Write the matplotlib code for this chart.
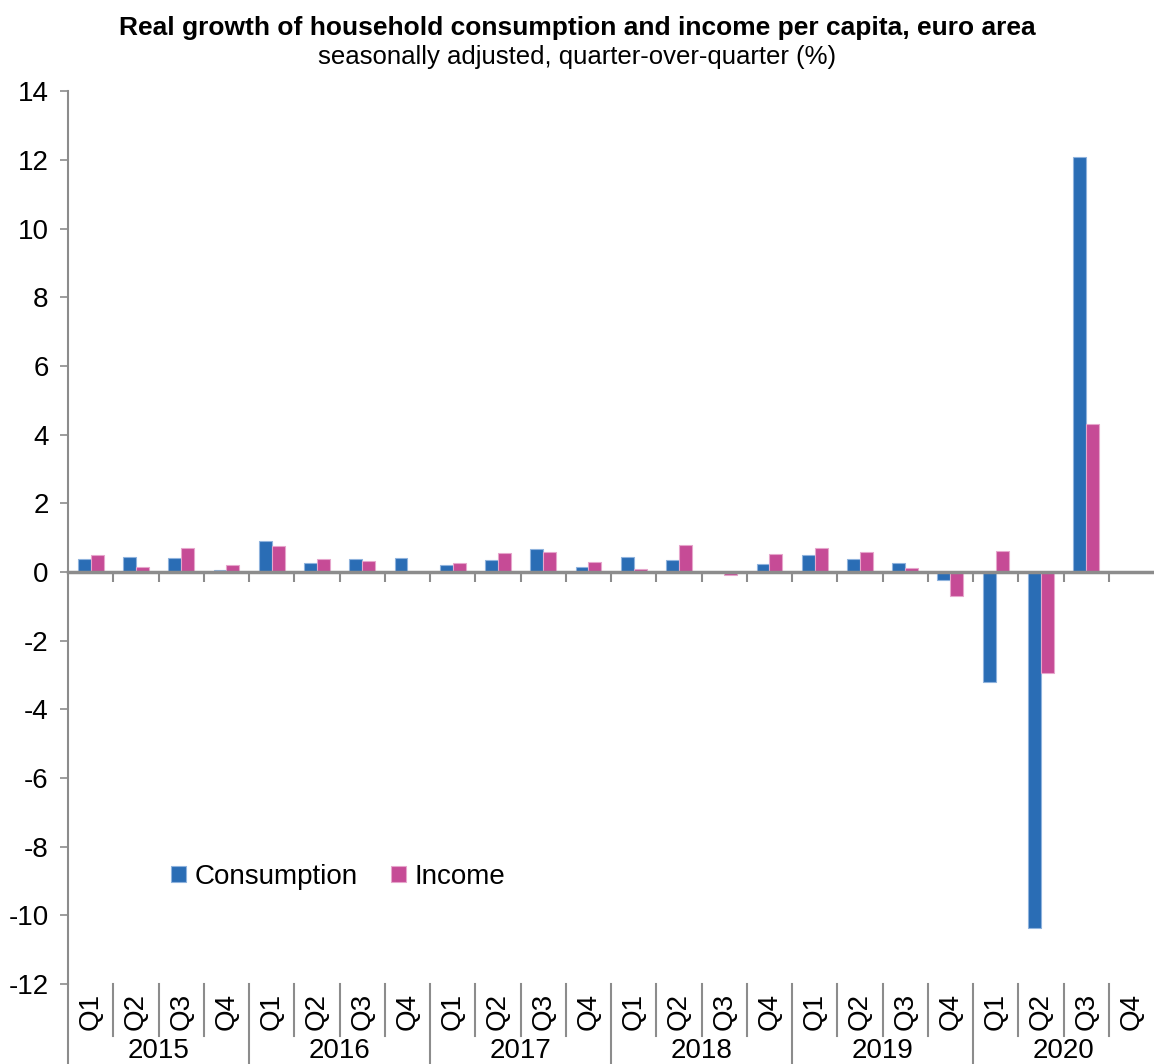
import matplotlib
matplotlib.use('Agg')
import matplotlib.pyplot as plt
import numpy as np

plt.rcParams['font.family'] = ['Liberation Sans', 'DejaVu Sans']
plt.rcParams['axes.unicode_minus'] = False

# data (q-o-q %, 2015Q1 .. 2020Q4)
years = ['2015', '2016', '2017', '2018', '2019', '2020']
quarters = ['Q1', 'Q2', 'Q3', 'Q4']
consumption = [0.37, 0.43, 0.40, 0.07,
               0.89, 0.27, 0.37, 0.40,
               0.20, 0.34, 0.66, 0.14,
               0.43, 0.34, 0.0, 0.24,
               0.50, 0.37, 0.27, -0.24,
               -3.21, -10.36, 12.1, np.nan]
income = [0.50, 0.14, 0.69, 0.20,
          0.76, 0.37, 0.31, 0.0,
          0.27, 0.56, 0.59, 0.30,
          0.08, 0.79, -0.08, 0.53,
          0.69, 0.59, 0.11, -0.71,
          0.62, -2.95, 4.3, np.nan]

blue = '#2a6db5'
pink = '#c64b96'
grey = '#8c8c8c'

fig = plt.figure(figsize=(11.54, 10.64), dpi=100)
ax = fig.add_axes([0.059, 0.0752, 0.941, 0.839])

n = len(consumption)
x = np.arange(n)
w = 0.285
ax.bar(x - w / 2, consumption, w, color=blue, edgecolor='#8fb3dd', linewidth=0.8, label='Consumption', zorder=2)
ax.bar(x + w / 2, income, w, color=pink, edgecolor='#e6a6cc', linewidth=0.8, label='Income', zorder=2)

ax.set_xlim(-0.5, n - 0.5)
ax.set_ylim(-12, 14)
ax.set_yticks(np.arange(-12, 15, 2))
ax.tick_params(axis='y', labelsize=20, length=6, width=1.2, color=grey, pad=8)

for s in ['top', 'right']:
    ax.spines[s].set_visible(False)
ax.spines['left'].set_color(grey)
ax.spines['left'].set_linewidth(1.5)
ax.spines['bottom'].set_position(('data', 0))
ax.spines['bottom'].set_color(grey)
ax.spines['bottom'].set_linewidth(2.5)
ax.spines['bottom'].set_zorder(3)
ax.set_xticks(np.arange(n - 1) + 0.5)
ax.set_xticklabels([])
ax.tick_params(axis='x', direction='out', length=7, width=1.5, color=grey)

# category labels below the plot
tr = ax.get_xaxis_transform()
for i in range(n):
    ax.text(i, -0.031, quarters[i % 4], transform=tr, rotation=90, ha='center', va='center', fontsize=20)
for j, yr in enumerate(years):
    ax.text(j * 4 + 1.5, -0.075, yr, transform=tr, ha='center', va='center', fontsize=20)
for i in range(n):
    bound = i - 0.5
    low = -0.095 if i % 4 == 0 else -0.058
    ax.plot([bound, bound], [0, low], transform=tr, color=grey, lw=1.5, clip_on=False)

leg = ax.legend(loc='center left', bbox_to_anchor=(0.148, 0.176), bbox_transform=fig.transFigure,
                ncol=2, frameon=False, fontsize=20, handlelength=0.55, handleheight=0.55,
                handletextpad=0.3, columnspacing=1.2, borderaxespad=0, borderpad=0)

fig.text(0.5, 0.974, 'Real growth of household consumption and income per capita, euro area',
         ha='center', va='center', fontsize=19, fontweight='bold')
fig.text(0.5, 0.946, 'seasonally adjusted, quarter-over-quarter (%)',
         ha='center', va='center', fontsize=18.5)

fig.savefig('out.png', dpi=100)
